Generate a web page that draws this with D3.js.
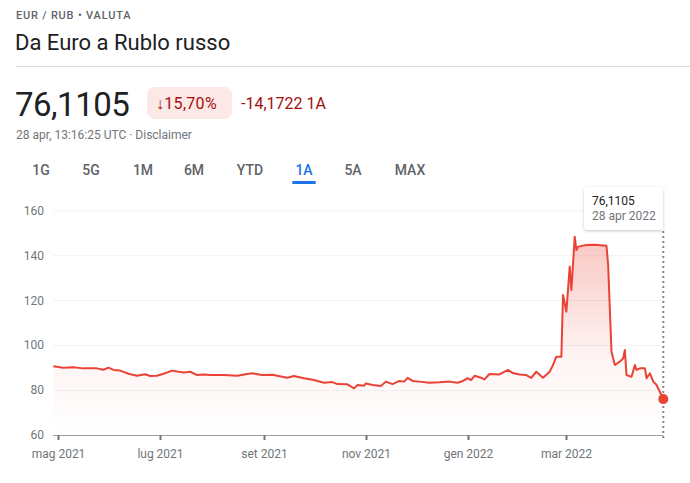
<!DOCTYPE html>
<html>
<head>
<meta charset="utf-8">
<script src="https://cdn.jsdelivr.net/npm/d3@7"></script>
<style>
  body { margin: 0; background: #fff; font-family: Roboto, Arial, sans-serif; }
  svg text { font-family: Roboto, Arial, sans-serif; }
</style>
</head>
<body>
<svg id="chart" width="690" height="483"></svg>
<script>
// values (EUR/RUB, 1 year)
const dates = ['2021-04-28','2021-05-04','2021-05-10','2021-05-16','2021-05-24','2021-05-28','2021-05-31','2021-06-03','2021-06-07','2021-06-12','2021-06-17','2021-06-22','2021-06-25','2021-06-29','2021-07-03','2021-07-08','2021-07-12','2021-07-15','2021-07-19','2021-07-23','2021-07-27','2021-07-31','2021-08-08','2021-08-16','2021-08-22','2021-08-25','2021-08-31','2021-09-06','2021-09-09','2021-09-15','2021-09-19','2021-09-25','2021-10-01','2021-10-07','2021-10-12','2021-10-15','2021-10-21','2021-10-25','2021-10-27','2021-10-31','2021-11-01','2021-11-05','2021-11-10','2021-11-13','2021-11-17','2021-11-21','2021-11-24','2021-11-26','2021-11-29','2021-12-03','2021-12-09','2021-12-15','2021-12-21','2021-12-26','2021-12-29','2022-01-01','2022-01-03','2022-01-05','2022-01-09','2022-01-11','2022-01-14','2022-01-20','2022-01-23','2022-01-25','2022-01-28','2022-02-01','2022-02-05','2022-02-08','2022-02-11','2022-02-15','2022-02-19','2022-02-21','2022-02-23','2022-02-26','2022-02-27','2022-03-01','2022-03-03','2022-03-04','2022-03-06','2022-03-07','2022-03-08','2022-03-13','2022-03-18','2022-03-25','2022-03-26','2022-03-28','2022-03-30','2022-04-02','2022-04-04','2022-04-05','2022-04-06','2022-04-09','2022-04-11','2022-04-12','2022-04-14','2022-04-17','2022-04-18','2022-04-20','2022-04-22','2022-04-24','2022-04-28'];
const rates = [90.7,90.1,90.3,89.8,89.8,89.2,90.1,89.1,88.8,87.4,86.5,87.2,86.4,86.5,87.4,88.8,88.3,88.0,88.3,86.8,87.1,86.8,86.8,86.5,87.3,87.6,86.8,87.0,86.5,85.6,86.4,85.4,84.6,83.4,83.7,82.8,82.7,80.9,82.4,82.1,83.1,82.4,81.9,83.9,82.8,84.2,83.9,85.6,84.2,83.9,83.4,83.6,83.9,83.4,84.2,85.4,84.6,86.5,85.6,84.9,87.3,87.1,88.3,89.1,87.7,87.1,86.8,85.6,88.3,85.6,88.3,91.3,95.0,95.0,122.5,115.0,135.1,124.7,148.4,142.5,144.0,144.7,144.8,144.4,135.8,97.2,91.3,92.8,94.3,98.0,86.8,86.1,91.3,89.1,89.8,89.8,85.4,87.6,83.9,82.4,76.1105];
const yTicks = [60, 80, 100, 120, 140, 160];
const xTickDates = ['2021-05-01','2021-07-01','2021-09-01','2021-11-01','2022-01-01','2022-03-01'];
const xTickLabels = ['mag 2021','lug 2021','set 2021','nov 2021','gen 2022','mar 2022'];
const tabs = ['1G','5G','1M','6M','YTD','1A','5A','MAX'];
const tabX = [41, 91, 143, 194, 250, 304, 353, 410];

const parse = d3.timeParse('%Y-%m-%d');
const data = dates.map((d, i) => ({ date: parse(d), value: rates[i] }));

const svg = d3.select('#chart');

// header
svg.append('text').attr('x', 16).attr('y', 19)
    .attr('font-size', 11).attr('font-weight', 500).attr('letter-spacing', 0.8)
    .attr('fill', '#5f6368').text('EUR / RUB • VALUTA');
svg.append('text').attr('x', 15).attr('y', 50)
    .attr('font-size', 22).attr('fill', '#202124').text('Da Euro a Rublo russo');
svg.append('line').attr('x1', 16).attr('x2', 690).attr('y1', 66.5).attr('y2', 66.5)
    .attr('stroke', '#dadce0');

svg.append('text').attr('x', 15).attr('y', 116)
    .attr('font-size', 33).attr('fill', '#202124').attr('letter-spacing', -0.5).text('76,1105');
svg.append('rect').attr('x', 147).attr('y', 87).attr('width', 85).attr('height', 32)
    .attr('rx', 8).attr('fill', '#fce8e6');
svg.append('text').attr('x', 156).attr('y', 109)
    .attr('font-size', 16).attr('fill', '#a50e0e').attr('letter-spacing', 0.3).text('↓15,70%');
svg.append('text').attr('x', 241).attr('y', 109)
    .attr('font-size', 16).attr('fill', '#a50e0e').text('-14,1722 1A');
svg.append('text').attr('x', 16).attr('y', 139)
    .attr('font-size', 12).attr('fill', '#70757a').text('28 apr, 13:16:25 UTC · Disclaimer');

// range tabs
tabs.forEach((t, i) => {
    svg.append('text').attr('x', tabX[i]).attr('y', 175)
        .attr('text-anchor', 'middle').attr('font-size', 14).attr('font-weight', 500)
        .attr('fill', t === '1A' ? '#1a73e8' : '#5f6368').text(t);
});
svg.append('rect').attr('x', 292).attr('y', 181).attr('width', 24).attr('height', 3)
    .attr('rx', 1.5).attr('fill', '#1a73e8');

// chart
const x = d3.scaleTime()
    .domain([parse('2021-04-28'), parse('2022-04-28')])
    .range([53.3, 663.3]);
const y = d3.scaleLinear().domain([60, 160]).range([435.3, 210.7]);

const grid = svg.append('g');
yTicks.forEach(v => {
    if (v > 60) {
        grid.append('line').attr('x1', 53).attr('x2', 663)
            .attr('y1', y(v)).attr('y2', y(v)).attr('stroke', '#f1f3f4');
    }
    grid.append('text').attr('x', 44).attr('y', y(v) + 4)
        .attr('text-anchor', 'end').attr('font-size', 12).attr('fill', '#70757a').text(v);
});

const defs = svg.append('defs');
const grad = defs.append('linearGradient').attr('id', 'fillGrad')
    .attr('gradientUnits', 'userSpaceOnUse')
    .attr('x1', 0).attr('x2', 0).attr('y1', y(148)).attr('y2', y(60));
grad.append('stop').attr('offset', 0).attr('stop-color', '#ea4335').attr('stop-opacity', 0.3);
grad.append('stop').attr('offset', 0.6).attr('stop-color', '#ea4335').attr('stop-opacity', 0.06);
grad.append('stop').attr('offset', 1).attr('stop-color', '#ea4335').attr('stop-opacity', 0);

const area = d3.area().x(d => x(d.date)).y0(y(60)).y1(d => y(d.value));
const line = d3.line().x(d => x(d.date)).y(d => y(d.value));

svg.append('path').datum(data).attr('d', area).attr('fill', 'url(#fillGrad)');
svg.append('path').datum(data).attr('d', line)
    .attr('fill', 'none').attr('stroke', '#ea4335').attr('stroke-width', 2)
    .attr('stroke-linejoin', 'round');

// x axis
svg.append('line').attr('x1', 53).attr('x2', 663).attr('y1', 435.5).attr('y2', 435.5)
    .attr('stroke', '#9aa0a6');
xTickDates.forEach((d, i) => {
    const px = Math.round(x(parse(d))) + 0.5;
    svg.append('line').attr('x1', px).attr('x2', px).attr('y1', 435).attr('y2', 440)
        .attr('stroke', '#70757a').attr('stroke-width', 2);
    svg.append('text').attr('x', px).attr('y', 458).attr('text-anchor', 'middle')
        .attr('font-size', 12).attr('fill', '#70757a').text(xTickLabels[i]);
});

// hover marker
const last = data[data.length - 1];
svg.append('line').attr('x1', x(last.date)).attr('x2', x(last.date))
    .attr('y1', 231).attr('y2', 440)
    .attr('stroke', '#80868b').attr('stroke-width', 2).attr('stroke-dasharray', '2,3');
svg.append('circle').attr('cx', x(last.date)).attr('cy', y(last.value)).attr('r', 5)
    .attr('fill', '#ea4335');

const tip = svg.append('g');
defs.append('filter').attr('id', 'shadow').attr('x', -0.2).attr('y', -0.3)
    .attr('width', 1.4).attr('height', 1.6)
    .append('feDropShadow').attr('dx', 0).attr('dy', 1).attr('stdDeviation', 1.5)
    .attr('flood-color', '#3c4043').attr('flood-opacity', 0.3);
tip.append('rect').attr('x', 584).attr('y', 187).attr('width', 79).attr('height', 43)
    .attr('rx', 4).attr('fill', '#fff').attr('filter', 'url(#shadow)');
tip.append('text').attr('x', 592).attr('y', 205).attr('font-size', 12)
    .attr('fill', '#202124').text('76,1105');
tip.append('text').attr('x', 592).attr('y', 220).attr('font-size', 12)
    .attr('fill', '#70757a').text('28 apr 2022');
</script>
</body>
</html>
